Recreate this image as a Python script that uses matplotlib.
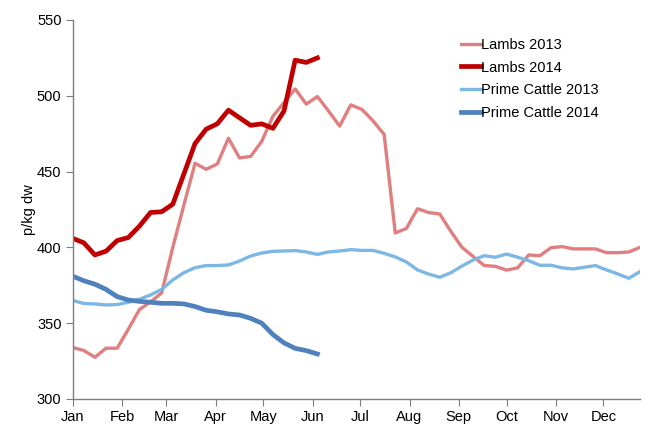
import numpy as np
import matplotlib
matplotlib.use("Agg")
import matplotlib.pyplot as plt

plt.rcParams['font.family'] = ['Liberation Sans', 'DejaVu Sans']

# weekly deadweight prices, p/kg
lambs_2013 = [334, 332, 327.5, 333.5, 333.5, 346, 359, 364, 370, 400, 428, 455.5,
              451.5, 455, 472, 459, 460, 470, 486.5, 495.5, 504.5, 494.5, 499.5, 490,
              480, 494, 491, 483.5, 474.5, 409.5, 412.5, 425.5, 423, 422, 410.5, 400,
              394, 388, 387.5, 385, 386.5, 395, 394.5, 399.8, 400.5, 399, 399, 399,
              396.5, 396.5, 397, 400]
lambs_2014 = [406, 403, 395, 397.5, 404.5, 406.5, 414, 423, 423.5, 428.5, 448.5, 468.5,
              478, 481.5, 490.5, 485.5, 480.5, 481.5, 478.5, 490, 523.5, 522, 525]
cattle_2013 = [365, 363, 362.7, 362, 362.3, 363.8, 365.8, 368.6, 372.3, 378.5, 383.3, 386.6,
               388, 388, 388.4, 391, 394.3, 396.3, 397.4, 397.6, 397.9, 397, 395.4, 397,
               397.6, 398.5, 398, 398, 396.1, 393.7, 390.4, 385.1, 382.4, 380.3, 383.3, 387.7,
               391.7, 394.5, 393.5, 395.6, 393.5, 391.2, 388.2, 388.2, 386.5, 385.8, 386.9, 388,
               385.1, 382.5, 379.6, 384]
cattle_2014 = [381, 378, 375.7, 372.3, 367.5, 365.3, 364.4, 363.8, 363.1, 363.1, 362.7, 361,
               358.5, 357.5, 356.1, 355.4, 353.2, 350, 342.5, 337, 333.4, 331.9, 329.7]

months = ['Jan', 'Feb', 'Mar', 'Apr', 'May', 'Jun', 'Jul', 'Aug', 'Sep', 'Oct', 'Nov', 'Dec']
month_days = [0, 31, 59, 90, 120, 151, 181, 212, 243, 273, 304, 334]

days13 = np.arange(len(lambs_2013)) * 7
days14 = np.arange(len(lambs_2014)) * 7

fig = plt.figure(figsize=(6.46, 4.28), dpi=100)
ax = fig.add_axes([0.1125, 0.0678, 0.8782, 0.8855])

ax.plot(days13, lambs_2013, color='#E07F80', lw=2.4, label='Lambs 2013')
ax.plot(days14, lambs_2014, color='#C00000', lw=3.4, label='Lambs 2014')
ax.plot(days13, cattle_2013, color='#7DB7E3', lw=2.4, label='Prime Cattle 2013')
ax.plot(days14, cattle_2014, color='#4F81BD', lw=3.4, label='Prime Cattle 2014')

ax.set_xlim(0, days13[-1])
ax.set_ylim(300, 550)
ax.set_xticks(month_days)
ax.set_xticklabels(months)
ax.set_yticks(range(300, 551, 50))
ax.set_ylabel('p/kg dw', fontsize=10.5, labelpad=1)

for s in ['top', 'right']:
    ax.spines[s].set_visible(False)
for s in ['left', 'bottom']:
    ax.spines[s].set_color('#7f7f7f')
    ax.spines[s].set_linewidth(1.0)
ax.tick_params(axis='both', direction='out', length=5, color='#7f7f7f',
               labelsize=10.5, pad=3)

ax.legend(loc='upper left', bbox_to_anchor=(455 / 646, 1 - 32 / 428),
          bbox_transform=fig.transFigure, frameon=False, fontsize=10.5,
          handlelength=1.4, handletextpad=0.0, labelspacing=0.6, borderaxespad=0)

fig.savefig('out.png', dpi=100)
